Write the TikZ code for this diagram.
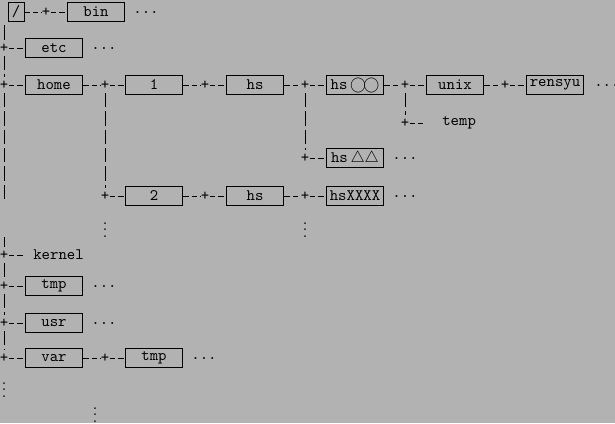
\documentclass[tikz,border=0pt]{standalone}
\usepackage{amssymb}
\tikzset{
  dir/.style={draw,font=\ttfamily,minimum width=36pt,minimum height=11.5pt,inner sep=1pt},
  jn/.style={font=\ttfamily,inner sep=0pt},
  tx/.style={font=\ttfamily,inner sep=0pt},
  hl/.style={dash pattern=on 3.5pt off 1.75pt},
  vl/.style={dash pattern=on 9pt off 2.5pt,shorten <=2pt,shorten >=2pt}
}
\begin{document}
\begin{tikzpicture}[x=0.625pt,y=-0.625pt]
		\fill[black!30] (0,0) rectangle (615,423);
		\useasboundingbox (0,0) rectangle (615,423);
		% left trunk
		\node[dir,minimum width=10pt] (root) at (16,12) {/};
		\node[jn] (pb) at (46,12) {+};
		\node[dir] (bin) at (96,12) {bin};
		\node[tx] (bind) at (146,12) {...};
		\draw[hl] (root) -- (pb) -- (bin);
		\coordinate (ttop) at (4,22);
		\foreach \n/\y in {etc/48,home/85,kernel/255,tmp/286,usr/323,var/358}
		{
			\node[jn] (p\n) at (4,\y) {+};
		}
		\foreach \n in {etc,tmp,usr}
		{
			\node[dir] (\n) at (54,0 |- p\n) {\n};
			\node[tx] at (104,0 |- p\n) {...};
			\draw[hl] (p\n) -- (\n);
		}
		\node[dir] (home) at (54,85) {home};
		\node[dir] (var) at (54,358) {var};
		\draw[hl] (phome) -- (home);
		\draw[hl] (pvar) -- (var);
		\node[tx,anchor=west] (kernel) at (33,255) {kernel};
		\draw[hl] (pkernel) -- (25,255);
		\coordinate (tgap1) at (4,205);
		\coordinate (tgap2) at (4,234);
		\draw[vl] (ttop) -- (petc);
		\draw[vl] (petc) -- (phome);
		\draw[vl] (phome) -- (tgap1);
		\draw[vl] (tgap2) -- (pkernel);
		\draw[vl] (pkernel) -- (ptmp);
		\draw[vl] (ptmp) -- (pusr);
		\draw[vl] (pusr) -- (pvar);
		\node[inner sep=0pt] (tdots) at (4,385) {$\vdots$};
		\node[inner sep=0pt] (ldots) at (95,410) {$\vdots$};
		% home
		\node[jn] (ph) at (105,85) {+};
		\node[jn] (ph2) at (105,196) {+};
		\node[dir] (one) at (154,85) {1};
		\node[dir] (two) at (154,196) {2};
		\draw[hl] (home) -- (ph) -- (one);
		\draw[hl] (ph2) -- (two);
		\draw[vl] (ph) -- (ph2);
		\node[inner sep=0pt] (hdots) at (105,225) {$\vdots$};
		\node[jn] (p1) at (205,85) {+};
		\node[jn] (p2) at (205,196) {+};
		\node[dir] (hs1) at (255,85) {hs};
		\node[dir] (hs2) at (255,196) {hs};
		\draw[hl] (one) -- (p1) -- (hs1);
		\draw[hl] (two) -- (p2) -- (hs2);
		\node[jn] (q1) at (305,85) {+};
		\node[jn] (q3) at (305,158) {+};
		\node[jn] (q2) at (305,196) {+};
		\node[dir] (hso) at (355,85) {hs\,$\bigcirc\!\bigcirc$};
		\node[dir] (hst) at (355,158) {hs\,$\triangle\triangle$};
		\node[dir] (hsx) at (355,196) {hsXXXX};
		\draw[hl] (hs1) -- (q1) -- (hso);
		\draw[hl] (q3) -- (hst);
		\draw[hl] (hs2) -- (q2) -- (hsx);
		\draw[vl] (q1) -- (q3);
		\node[inner sep=0pt] (sdots) at (305,225) {$\vdots$};
		\node[tx] at (405,158) {...};
		\node[tx] at (405,196) {...};
		% hs oo
		\node[jn] (r1) at (405,85) {+};
		\node[jn] (r2) at (405,123) {+};
		\node[dir] (unix) at (455,85) {unix};
		\node[tx,anchor=west] (temp) at (442,123) {temp};
		\draw[hl] (hso) -- (r1) -- (unix);
		\draw[hl] (r2) -- (423,123);
		\draw[vl] (r1) -- (r2);
		\node[jn] (u1) at (505,85) {+};
		\node[dir] (rensyu) at (555,85) {rensyu};
		\draw[hl] (unix) -- (u1) -- (rensyu);
		\node[tx,anchor=west] at (594,85) {...};
		% var
		\node[jn] (pv) at (105,358) {+};
		\node[dir] (vtmp) at (154,358) {tmp};
		\draw[hl] (var) -- (pv) -- (vtmp);
		\node[tx] at (204,358) {...};
\end{tikzpicture}
\end{document}
